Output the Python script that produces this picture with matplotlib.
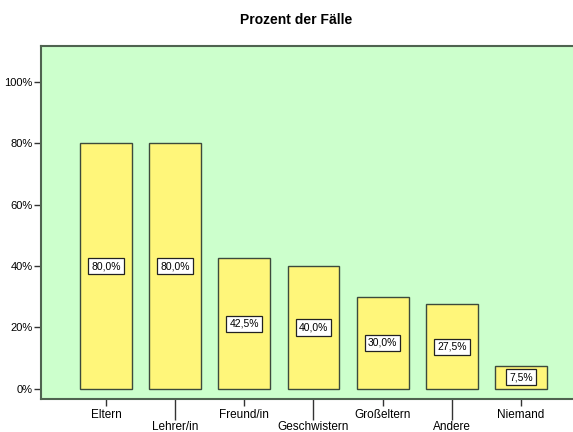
import matplotlib.pyplot as plt
from matplotlib.ticker import FixedLocator, PercentFormatter

categories = ['Eltern', 'Lehrer/in', 'Freund/in', 'Geschwistern',
              'Großeltern', 'Andere', 'Niemand']
percent = [80.0, 80.0, 42.5, 40.0, 30.0, 27.5, 7.5]
value_labels = ['80,0%', '80,0%', '42,5%', '40,0%', '30,0%', '27,5%', '7,5%']
yticks = [0, 20, 40, 60, 80, 100]

plt.rcParams['font.family'] = ['Liberation Sans', 'DejaVu Sans']

fig = plt.figure(figsize=(5.73, 4.32), dpi=100)
ax = fig.add_axes([41 / 573, 33 / 432, 545 / 573, 353 / 432])
ax.set_facecolor('#ccffcc')

x = list(range(len(categories)))
ax.bar(x, percent, width=0.75, color='#fff67a', edgecolor='#3c4a3c',
       linewidth=1.0, zorder=2)

# value boxes in the middle of each bar
for xi, v, lab in zip(x, percent, value_labels):
    ax.text(xi, v / 2, lab, ha='center', va='center', fontsize=7.5, zorder=3,
            bbox=dict(boxstyle='square,pad=0.3', fc='white', ec='#222222', lw=0.9))

ax.set_xlim(-0.94, 6.94)
ax.set_ylim(-3.3, 111.7)
ax.yaxis.set_major_locator(FixedLocator(yticks))
ax.yaxis.set_major_formatter(PercentFormatter(decimals=0))
ax.tick_params(axis='y', labelsize=8, length=5, width=1.0, color='#333333', pad=1)

# staggered category labels: even ones short tick, odd ones long tick
ax.set_xticks(x[0::2])
ax.set_xticklabels(categories[0::2])
ax.set_xticks(x[1::2], minor=True)
ax.set_xticklabels(categories[1::2], minor=True)
ax.tick_params(axis='x', which='major', labelsize=8.5, length=5, width=1.0,
               color='#333333', pad=2)
ax.tick_params(axis='x', which='minor', labelsize=8.5, length=15, width=1.0,
               color='#333333', pad=1)

for side in ['left', 'bottom', 'top', 'right']:
    ax.spines[side].set_color('#4f6350')
    ax.spines[side].set_linewidth(1.5)

fig.text(296 / 573, 1 - 20 / 432, 'Prozent der Fälle', ha='center', va='center',
         fontsize=10, fontweight='bold')

fig.savefig('out.png', dpi=100)
